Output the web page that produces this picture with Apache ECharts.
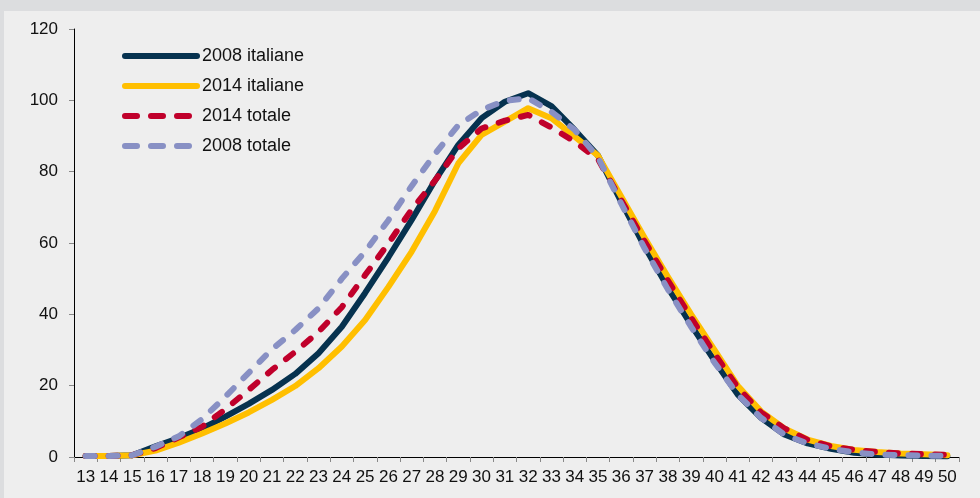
<!DOCTYPE html>
<html>
<head>
<meta charset="utf-8">
<script src="https://cdn.jsdelivr.net/npm/echarts@6/dist/echarts.min.js"></script>
<style>
html,body{margin:0;padding:0;background:#dcdddf;}
#wrap{position:relative;width:980px;height:498px;background:#dcdddf;overflow:hidden;}
#panel{position:absolute;left:4px;top:11px;width:976px;height:487px;background:#eeeeee;}
#chart{position:absolute;left:0;top:0;width:980px;height:498px;}
</style>
</head>
<body>
<div id="wrap"><div id="panel"></div><div id="chart"></div></div>
<script>
const ages = ['13','14','15','16','17','18','19','20','21','22','23','24','25','26','27','28','29','30','31','32','33','34','35','36','37','38','39','40','41','42','43','44','45','46','47','48','49','50'];
const italiane2008 = [0.3,0.3,0.5,3.0,5.3,8.0,11.3,14.9,18.8,23.3,29.1,36.5,46.0,56.0,66.5,77.5,87.5,95.0,99.6,102.0,98.4,91.7,84.5,71.5,59.0,47.5,37.0,27.0,17.5,11.0,6.3,3.8,2.3,1.2,0.7,0.4,0.3,0.2];
const italiane2014 = [0.3,0.3,0.5,1.8,4.0,6.6,9.4,12.5,16.0,19.9,24.9,31.0,38.4,47.7,57.6,69.0,82.3,90.3,94.0,97.8,95.0,89.8,84.5,73.0,61.5,50.5,40.0,30.0,20.0,12.8,8.0,4.9,3.1,2.0,1.4,1.0,0.8,0.5];
const totale2014 = [0.3,0.3,0.5,2.5,5.5,8.5,13.4,18.8,24.4,29.5,35.1,42.0,51.0,59.9,69.4,77.5,86.5,92.1,94.3,95.9,92.4,88.4,83.5,72.0,60.5,49.5,39.0,29.0,19.5,12.5,8.0,4.8,3.0,2.0,1.4,1.0,0.8,0.6];
const totale2008 = [0.3,0.3,0.5,2.9,5.8,10.6,16.9,23.6,30.2,35.6,41.7,50.0,57.6,66.4,76.0,85.0,93.0,97.3,99.9,100.6,96.8,91.7,84.0,71.0,58.5,47.0,36.5,26.5,17.5,11.0,6.3,3.8,2.3,1.3,0.7,0.5,0.4,0.3];
const seriesNames = ['2008 italiane','2014 italiane','2014 totale','2008 totale'];
const yMin = 0, yMax = 120, yStep = 20;

const colors = ['#06324f','#ffbf00','#c0002b','#8890c4'];
const dashed = [false,false,true,true];
const values = [italiane2008, italiane2014, totale2014, totale2008];

const chart = echarts.init(document.getElementById('chart'), null, {renderer:'canvas'});
const FONT = 'Liberation Sans, Arial, sans-serif';
chart.setOption({
  animation: false,
  backgroundColor: 'transparent',
  grid: {left: 74, right: 21, top: 29, bottom: 41, containLabel: false},
  legend: {
    orient: 'vertical',
    left: 117, top: 42,
    itemWidth: 72, itemHeight: 18, itemGap: 12,
    itemStyle: {opacity: 0},
    lineStyle: {width: 6},
    textStyle: {fontFamily: FONT, fontSize: 18, color: '#111'},
    data: seriesNames.map((n,i) => ({
      name: n,
      lineStyle: {width: 6, type: dashed[i] ? [12,14] : 'solid', cap: 'round', color: colors[i]}
    }))
  },
  xAxis: {
    type: 'category',
    data: ages,
    boundaryGap: true,
    axisLine: {lineStyle: {color: '#000', width: 1}},
    axisTick: {show: true, length: 5, lineStyle: {color: '#888'}},
    axisLabel: {interval: 0, fontFamily: FONT, fontSize: 17, color: '#111', margin: 12},
    splitLine: {show: false}
  },
  yAxis: {
    type: 'value',
    min: yMin, max: yMax, interval: yStep,
    axisLine: {show: true, lineStyle: {color: '#000', width: 1}},
    axisTick: {show: true, length: 5, lineStyle: {color: '#888'}},
    axisLabel: {fontFamily: FONT, fontSize: 17, color: '#111', margin: 16},
    splitLine: {show: false}
  },
  series: seriesNames.map((n,i) => ({
    name: n,
    type: 'line',
    data: values[i],
    symbol: 'none',
    smooth: false,
    lineStyle: {color: colors[i], width: 6, type: dashed[i] ? [9,14] : 'solid', cap: 'round', join: 'round'},
    itemStyle: {color: colors[i]},
    z: 2 + i
  }))
});
</script>
</body>
</html>
